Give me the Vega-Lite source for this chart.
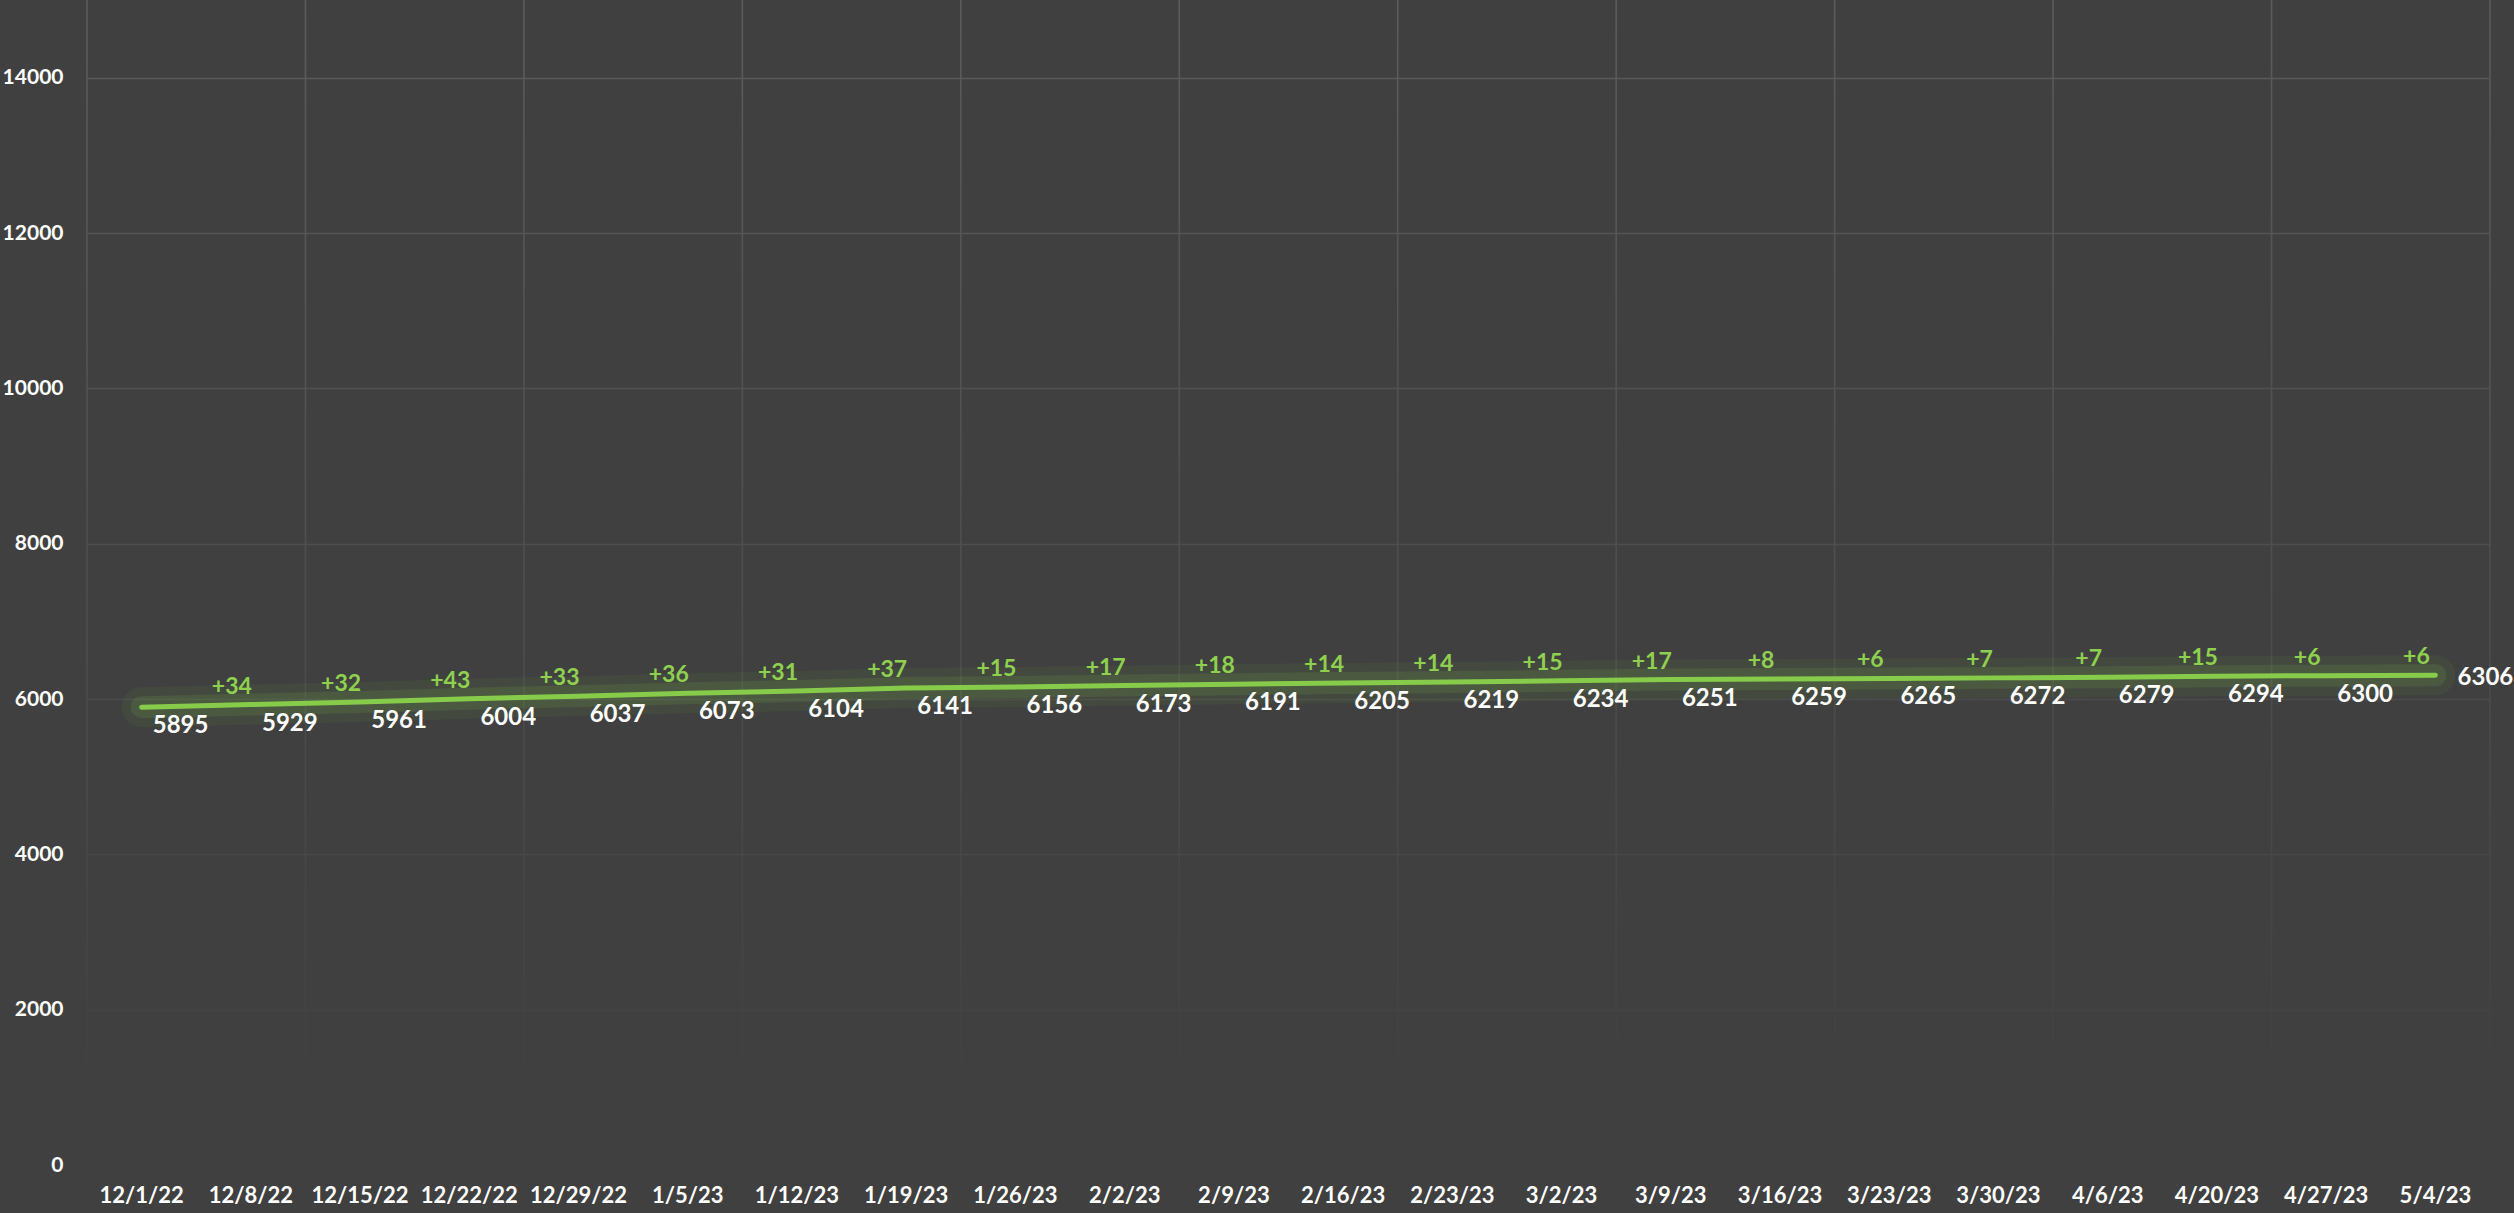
{
  "$schema": "https://vega.github.io/schema/vega-lite/v6.json",
  "width": 2403,
  "height": 1165,
  "autosize": {"type": "none"},
  "padding": {"left": 87, "top": 0, "right": 24, "bottom": 48},
  "background": "#404040",
  "config": {
    "view": {"stroke": null},
    "font": "Lato",
    "axis": {"labelFont": "Lato", "labelFontWeight": "bold", "labelColor": "#ffffff", "domain": false, "ticks": false, "tickSize": 0, "title": null}
  },
  "datasets": {
    "weekly": [
      {"date": "12/1/22", "value": 5895, "diff": null},
      {"date": "12/8/22", "value": 5929, "diff": 34},
      {"date": "12/15/22", "value": 5961, "diff": 32},
      {"date": "12/22/22", "value": 6004, "diff": 43},
      {"date": "12/29/22", "value": 6037, "diff": 33},
      {"date": "1/5/23", "value": 6073, "diff": 36},
      {"date": "1/12/23", "value": 6104, "diff": 31},
      {"date": "1/19/23", "value": 6141, "diff": 37},
      {"date": "1/26/23", "value": 6156, "diff": 15},
      {"date": "2/2/23", "value": 6173, "diff": 17},
      {"date": "2/9/23", "value": 6191, "diff": 18},
      {"date": "2/16/23", "value": 6205, "diff": 14},
      {"date": "2/23/23", "value": 6219, "diff": 14},
      {"date": "3/2/23", "value": 6234, "diff": 15},
      {"date": "3/9/23", "value": 6251, "diff": 17},
      {"date": "3/16/23", "value": 6259, "diff": 8},
      {"date": "3/23/23", "value": 6265, "diff": 6},
      {"date": "3/30/23", "value": 6272, "diff": 7},
      {"date": "4/6/23", "value": 6279, "diff": 7},
      {"date": "4/20/23", "value": 6294, "diff": 15},
      {"date": "4/27/23", "value": 6300, "diff": 6},
      {"date": "5/4/23", "value": 6306, "diff": 6}
    ],
    "gridStarts": [
      {"date": "12/1/22"}, {"date": "12/15/22"}, {"date": "12/29/22"}, {"date": "1/12/23"},
      {"date": "1/26/23"}, {"date": "2/9/23"}, {"date": "2/23/23"}, {"date": "3/9/23"},
      {"date": "3/23/23"}, {"date": "4/6/23"}, {"date": "4/27/23"}
    ],
    "gridEnd": [{"date": "5/4/23"}]
  },
  "layer": [
    {
      "data": {"name": "gridStarts"},
      "mark": {"type": "bar", "width": 1.6, "xOffset": {"expr": "-bandwidth('x')/2"},
        "fill": {"gradient": "linear", "x1": 0, "y1": 0, "x2": 0, "y2": 1,
          "stops": [
            {"offset": 0, "color": "#5b5b5b"},
            {"offset": 0.3, "color": "#535353"},
            {"offset": 0.7, "color": "#484848"},
            {"offset": 0.95, "color": "#404040"},
            {"offset": 1, "color": "#404040"}
          ]}
      },
      "encoding": {
        "x": {"field": "date", "type": "ordinal",
          "scale": {"type": "band", "paddingInner": 0, "paddingOuter": 0,
            "domain": ["12/1/22","12/8/22","12/15/22","12/22/22","12/29/22","1/5/23","1/12/23","1/19/23","1/26/23","2/2/23","2/9/23","2/16/23","2/23/23","3/2/23","3/9/23","3/16/23","3/23/23","3/30/23","4/6/23","4/20/23","4/27/23","5/4/23"]},
          "axis": {"grid": false, "labelFontSize": 22, "labelPadding": 20, "labelAngle": 0}
        },
        "y": {"datum": 15000, "type": "quantitative",
          "scale": {"domain": [0, 15000], "nice": false, "zero": true},
          "axis": {"values": [0, 2000, 4000, 6000, 8000, 10000, 12000, 14000], "format": "d", "grid": true,
            "gridColor": {"condition": [
              {"test": "datum.value >= 14000", "value": "#595959"},
              {"test": "datum.value >= 12000", "value": "#555555"},
              {"test": "datum.value >= 10000", "value": "#525252"},
              {"test": "datum.value >= 8000", "value": "#4e4e4e"},
              {"test": "datum.value >= 6000", "value": "#4b4b4b"},
              {"test": "datum.value >= 4000", "value": "#474747"},
              {"test": "datum.value >= 2000", "value": "#434343"}
            ], "value": "#404040"},
            "gridWidth": 1.5, "labelFontSize": 21, "labelPadding": 24}
        },
        "y2": {"datum": 0}
      }
    },
    {
      "data": {"name": "gridEnd"},
      "mark": {"type": "bar", "width": 1.6, "xOffset": {"expr": "bandwidth('x')/2"},
        "fill": {"gradient": "linear", "x1": 0, "y1": 0, "x2": 0, "y2": 1,
          "stops": [
            {"offset": 0, "color": "#5b5b5b"},
            {"offset": 0.3, "color": "#535353"},
            {"offset": 0.7, "color": "#484848"},
            {"offset": 0.95, "color": "#404040"},
            {"offset": 1, "color": "#404040"}
          ]}
      },
      "encoding": {
        "x": {"field": "date", "type": "ordinal"},
        "y": {"datum": 15000, "type": "quantitative"},
        "y2": {"datum": 0}
      }
    },
    {
      "data": {"name": "weekly"},
      "mark": {"type": "line", "color": "#86cc4a", "strokeWidth": 40, "opacity": 0.07, "strokeCap": "round"},
      "encoding": {
        "x": {"field": "date", "type": "ordinal", "bandPosition": 0.5},
        "y": {"field": "value", "type": "quantitative"}
      }
    },
    {
      "data": {"name": "weekly"},
      "mark": {"type": "line", "color": "#86cc4a", "strokeWidth": 22, "opacity": 0.12, "strokeCap": "round"},
      "encoding": {
        "x": {"field": "date", "type": "ordinal", "bandPosition": 0.5},
        "y": {"field": "value", "type": "quantitative"}
      }
    },
    {
      "data": {"name": "weekly"},
      "mark": {"type": "line", "color": "#86cc4a", "strokeWidth": 5, "strokeCap": "round"},
      "encoding": {
        "x": {"field": "date", "type": "ordinal", "bandPosition": 0.5},
        "y": {"field": "value", "type": "quantitative"}
      }
    },
    {
      "data": {"name": "weekly"},
      "transform": [{"filter": "datum.date != '5/4/23'"}],
      "mark": {"type": "text", "color": "#ffffff", "font": "Lato", "fontWeight": "bold", "fontSize": 24, "dx": 39, "dy": 19, "align": "center", "baseline": "middle"},
      "encoding": {
        "x": {"field": "date", "type": "ordinal", "bandPosition": 0.5},
        "y": {"field": "value", "type": "quantitative"},
        "text": {"field": "value", "type": "quantitative", "format": "d"}
      }
    },
    {
      "data": {"name": "weekly"},
      "transform": [{"filter": "datum.date == '5/4/23'"}],
      "mark": {"type": "text", "color": "#ffffff", "font": "Lato", "fontWeight": "bold", "fontSize": 24, "dx": 50, "dy": 3, "align": "center", "baseline": "middle"},
      "encoding": {
        "x": {"field": "date", "type": "ordinal", "bandPosition": 0.5},
        "y": {"field": "value", "type": "quantitative"},
        "text": {"field": "value", "type": "quantitative", "format": "d"}
      }
    },
    {
      "data": {"name": "weekly"},
      "transform": [{"filter": "datum.diff != null"}],
      "mark": {"type": "text", "color": "#8fd14f", "font": "Lato", "fontWeight": "bold", "fontSize": 23, "dx": -19, "dy": -18, "align": "center", "baseline": "middle"},
      "encoding": {
        "x": {"field": "date", "type": "ordinal", "bandPosition": 0.5},
        "y": {"field": "value", "type": "quantitative"},
        "text": {"field": "diff", "type": "quantitative", "format": "+d"}
      }
    }
  ]
}
